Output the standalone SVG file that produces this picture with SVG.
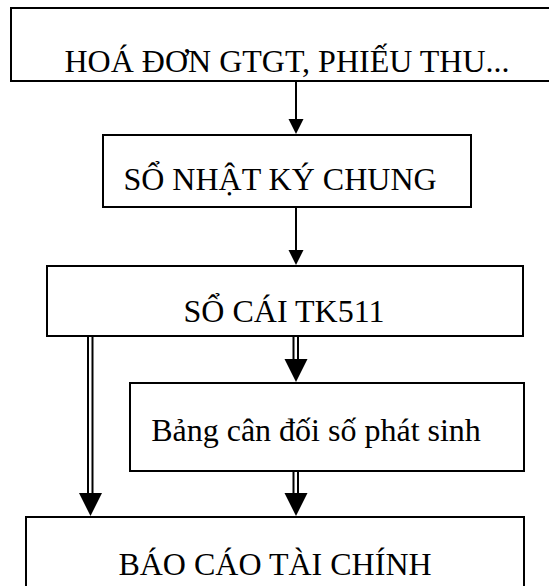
<svg xmlns="http://www.w3.org/2000/svg" width="549" height="586" viewBox="0 0 549 586">
<style>
.box{fill:#fff;stroke:#000;stroke-width:2}
.t{font-family:"Liberation Serif","Times New Roman",serif;font-size:32px;fill:#000;text-anchor:middle}
.ln{stroke:#000;stroke-width:2;fill:none}
.dl{stroke:#000;stroke-width:2;fill:none}
.ah{fill:#000}
</style>
<rect width="549" height="586" fill="#fff"/>
<g id="n1"><rect class="box" x="11" y="8" width="560" height="73"/><text class="t" x="287" y="72">HOÁ ĐƠN GTGT, PHIẾU THU...</text></g>
<g id="n2"><rect class="box" x="103" y="135" width="368" height="72"/><text class="t" x="280" y="190">SỔ NHẬT KÝ CHUNG</text></g>
<g id="n3"><rect class="box" x="47" y="266" width="476" height="70"/><text class="t" x="284" y="322">SỔ CÁI TK511</text></g>
<g id="n4"><rect class="box" x="130" y="383" width="394" height="88"/><text class="t" x="316" y="441">Bảng cân đối số phát sinh</text></g>
<g id="n5"><rect class="box" x="26" y="517" width="498" height="90"/><text class="t" x="275" y="575">BÁO CÁO TÀI CHÍNH</text></g>
<g id="connectors">
<line class="ln" x1="296" y1="81" x2="296" y2="120"/>
<polygon class="ah" points="288.5,119 303.5,119 296,134"/>
<line class="ln" x1="296" y1="207" x2="296" y2="251"/>
<polygon class="ah" points="288.5,250 303.5,250 296,265"/>
<line class="dl" x1="293.5" y1="336" x2="293.5" y2="362"/>
<line class="dl" x1="298" y1="336" x2="298" y2="362"/>
<polygon class="ah" points="284.5,359 307.5,359 296,382"/>
<line class="dl" x1="293.5" y1="471" x2="293.5" y2="496"/>
<line class="dl" x1="298" y1="471" x2="298" y2="496"/>
<polygon class="ah" points="284.5,493 307.5,493 296,516"/>
<line class="dl" x1="88" y1="336" x2="88" y2="496"/>
<line class="dl" x1="92.5" y1="336" x2="92.5" y2="496"/>
<polygon class="ah" points="79,493 102,493 90.5,516"/>
</g>
</svg>
